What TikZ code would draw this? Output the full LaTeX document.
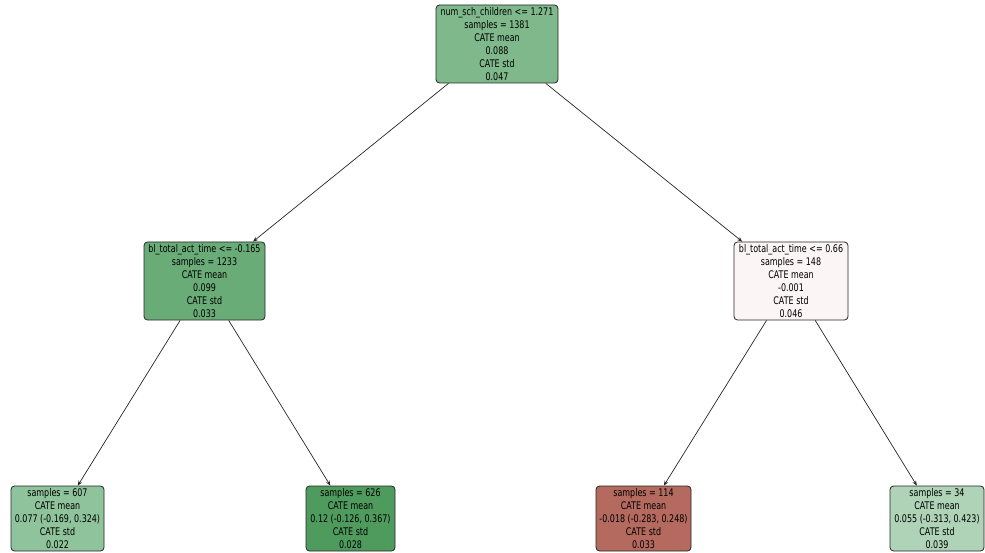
\documentclass[tikz,border=0pt]{standalone}
\usepackage{fontspec}
\setmainfont{DejaVu Sans}[FakeStretch=0.76]
\usetikzlibrary{arrows.meta}
\definecolor{cRoot}{RGB}{127,185,139}
\definecolor{cLmid}{RGB}{106,172,120}
\definecolor{cRmid}{RGB}{251,246,245}
\definecolor{cLfA}{RGB}{143,195,155}
\definecolor{cLfB}{RGB}{79,155,94}
\definecolor{cLfC}{RGB}{180,106,94}
\definecolor{cLfD}{RGB}{175,211,183}
\tikzset{
  tnode/.style={draw=black!85, line width=0.8pt, rounded corners=3.5pt, align=center,
    inner sep=0pt, font=\fontsize{10.5}{12.9}\selectfont},
  inner/.style={tnode, minimum height=78pt},
  leaf/.style={tnode, minimum height=65pt},
  edge/.style={line width=0.7pt, draw=black!85, -{Stealth[length=5pt,width=4pt]}}
}
\begin{document}
\begin{tikzpicture}[x=1pt,y=-1pt]
\useasboundingbox (0,0) rectangle (985,553);
\node[inner, fill=cRoot, minimum width=122pt] (root) at (497,44)
  {num\_sch\_children <= 1.271\\samples = 1381\\CATE mean\\0.088\\CATE std\\0.047};
\node[inner, fill=cLmid, minimum width=121pt] (lmid) at (204.5,281)
  {bl\_total\_act\_time <= -0.165\\samples = 1233\\CATE mean\\0.099\\CATE std\\0.033};
\node[inner, fill=cRmid, minimum width=114pt] (rmid) at (791,281)
  {bl\_total\_act\_time <= 0.66\\samples = 148\\CATE mean\\-0.001\\CATE std\\0.046};
\node[leaf, fill=cLfA, minimum width=93pt] (la) at (57.5,518.5)
  {samples = 607\\CATE mean\\0.077 (-0.169, 0.324)\\CATE std\\0.022};
\node[leaf, fill=cLfB, minimum width=89pt] (lb) at (350.5,518.5)
  {samples = 626\\CATE mean\\0.12 (-0.126, 0.367)\\CATE std\\0.028};
\node[leaf, fill=cLfC, minimum width=95pt] (lc) at (643.5,518.5)
  {samples = 114\\CATE mean\\-0.018 (-0.283, 0.248)\\CATE std\\0.033};
\node[leaf, fill=cLfD, minimum width=94pt] (ld) at (937,518.5)
  {samples = 34\\CATE mean\\0.055 (-0.313, 0.423)\\CATE std\\0.039};
\draw[edge] (root) -- (lmid);
\draw[edge] (root) -- (rmid);
\draw[edge] (lmid) -- (la);
\draw[edge] (lmid) -- (lb);
\draw[edge] (rmid) -- (lc);
\draw[edge] (rmid) -- (ld);
\end{tikzpicture}
\end{document}
